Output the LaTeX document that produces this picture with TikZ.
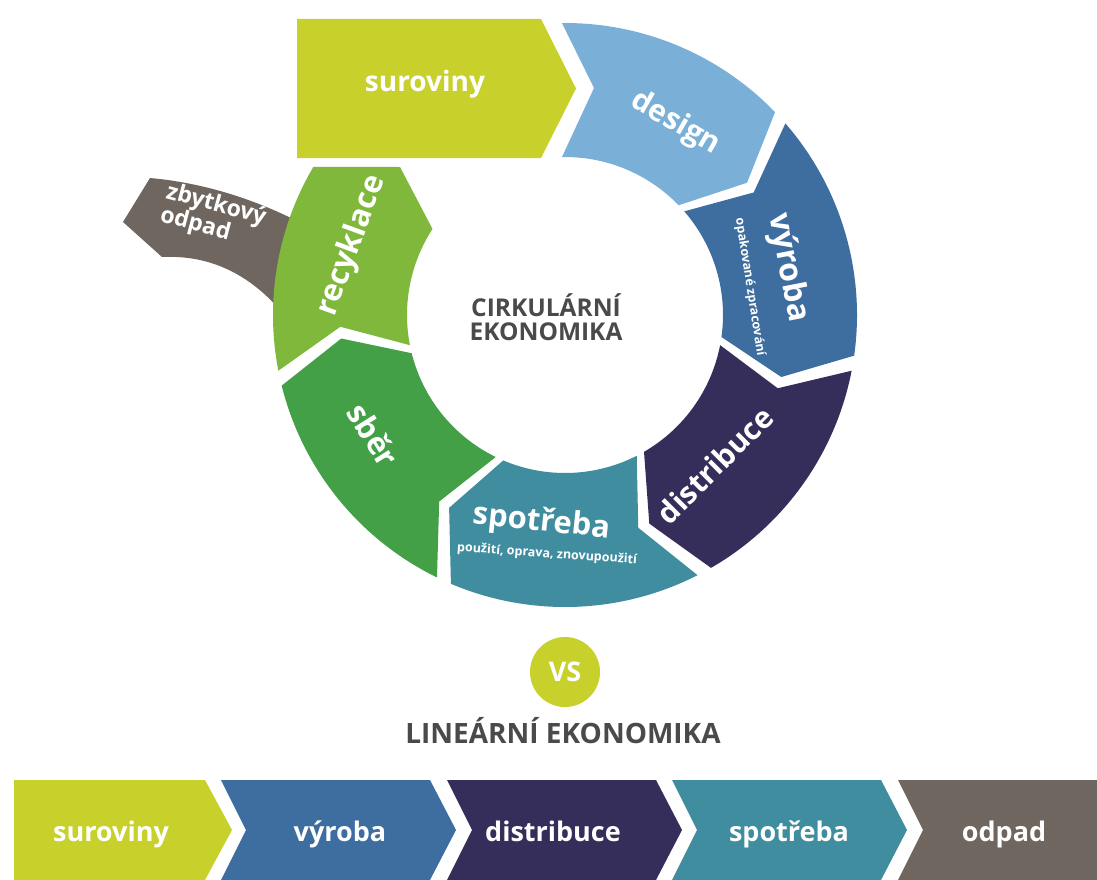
\documentclass[tikz,border=0pt]{standalone}
\usepackage{fontspec}
\setmainfont{Open Sans}
\definecolor{cSurov}{RGB}{200,209,44}
\definecolor{cDesign}{RGB}{122,176,216}
\definecolor{cVyroba}{RGB}{62,109,160}
\definecolor{cDistr}{RGB}{54,46,90}
\definecolor{cSpotr}{RGB}{64,141,160}
\definecolor{cSber}{RGB}{67,160,70}
\definecolor{cRecyk}{RGB}{128,184,60}
\definecolor{cWaste}{RGB}{112,102,96}
\definecolor{cHead}{RGB}{74,74,74}
\begin{document}
\begin{tikzpicture}[x=1pt,y=1pt,seglabel/.style={text=white,font=\bfseries\fontsize{30}{30}\selectfont,inner sep=0pt},sublabel/.style={text=white,font=\bfseries\fontsize{12.5}{13}\selectfont,inner sep=0pt},headline/.style={text=cHead,font=\bfseries\fontsize{24.5}{24.5}\selectfont,align=center},linlabel/.style={text=white,font=\bfseries\fontsize{27}{27}\selectfont,anchor=base}]
\def\Ro{292pt}
\def\Ri{158pt}
\def\Rm{225pt}
\def\Tp{8}
\def\ringseg#1#2#3{\fill[#3] (#1:\Ro) arc[start angle=#1,end angle=#2,radius=\Ro] -- ({#2-\Tp}:\Rm) -- (#2:\Ri) arc[start angle=#2,end angle=#1,radius=\Ri] -- ({#1-\Tp}:\Rm) -- cycle;}

\useasboundingbox (0,0) rectangle (1097,-880);
\fill[white] (0,0) rectangle (1097,-880);

\fill[cSurov] (297,-19) -- (541,-19) -- (576,-88.5) -- (541,-158) -- (297,-158) -- cycle;
\node[seglabel,font=\bfseries\fontsize{28}{28}\selectfont] (circS0) at (425,-84) {suroviny};

\begin{scope}[shift={(565,-315)}]
\fill[cWaste] (-442,93) -- (-415,137) .. controls (-370,133) and (-320,120) .. (-270,95) -- (-285,5) .. controls (-320,45) and (-360,60) .. (-403,58) -- cycle;
\fill[cRecyk] (191:\Ro) arc[start angle=191,end angle=149.54,radius=\Ro] -- (-165,148) -- (147:\Ri) arc[start angle=147,end angle=191,radius=\Ri] -- ({191-\Tp}:\Rm) -- cycle;
\fill[cDesign] (90.6:\Ro) arc[start angle=90.6,end angle=44,radius=\Ro] -- ({44-\Tp}:\Rm) -- (44:\Ri) arc[start angle=44,end angle=91.1,radius=\Ri] -- (29,227) -- cycle;
\ringseg{41}{-8}{cVyroba}
\ringseg{-11}{-60}{cDistr}
\ringseg{-63}{-113}{cSpotr}
\ringseg{-116}{-166}{cSber}

\node[seglabel,font=\bfseries\fontsize{23}{22}\selectfont,align=left,rotate=-15] (circW) at (-352,98) {zbytkový\\odpad};
\node[seglabel,font=\bfseries\fontsize{31}{31}\selectfont,rotate=70] (circS6) at (162:224pt) {recyklace};
\node[seglabel,rotate=-30] (circS1) at (60:221pt) {design};
\node[seglabel,font=\bfseries\fontsize{32}{32}\selectfont,rotate=-79] (circS2) at (12:228pt) {výroba};
\node[sublabel,rotate=-81] (circS2b) at (8.6:187pt) {opakované zpracování};
\node[seglabel,rotate=45] (circS3) at (-45:212pt) {distribuce};
\node[seglabel,font=\bfseries\fontsize{31}{31}\selectfont,rotate=-6] (circS4) at (-96.5:209pt) {spotřeba};
\node[sublabel,rotate=-4] (circS4b) at (-94.3:240pt) {použití, oprava, znovupoužití};
\node[seglabel,font=\bfseries\fontsize{31}{31}\selectfont,rotate=-58] (circS5) at (-148:226pt) {sběr};
\node[headline] (circT) at (-19,-2) {CIRKULÁRNÍ\\EKONOMIKA};
\end{scope}

\node[circle,fill=cSurov,minimum size=70pt,inner sep=0pt,text=white,font=\bfseries\fontsize{27}{27}\selectfont] (vsC) at (565,-672) {VS};
\node[headline,font=\bfseries\fontsize{28}{28}\selectfont] (linT) at (563,-731) {LINEÁRNÍ EKONOMIKA};

\fill[cSurov] (14,-780) -- (205,-780) -- (232,-830) -- (205,-880) -- (14,-880) -- cycle;
\fill[cVyroba] (221,-780) -- (430,-780) -- (456,-830) -- (430,-880) -- (221,-880) -- (246,-830) -- cycle;
\fill[cDistr] (447,-780) -- (656,-780) -- (682,-830) -- (656,-880) -- (447,-880) -- (472,-830) -- cycle;
\fill[cSpotr] (672,-780) -- (881,-780) -- (907,-830) -- (881,-880) -- (672,-880) -- (697,-830) -- cycle;
\fill[cWaste] (898,-780) -- (1097,-780) -- (1097,-880) -- (898,-880) -- (923,-830) -- cycle;
\node[linlabel] (linS1) at (111,-841) {suroviny};
\node[linlabel] (linS2) at (340,-841) {výroba};
\node[linlabel] (linS3) at (553,-841) {distribuce};
\node[linlabel] (linS4) at (789,-841) {spotřeba};
\node[linlabel] (linS5) at (1004,-841) {odpad};
\end{tikzpicture}
\end{document}
